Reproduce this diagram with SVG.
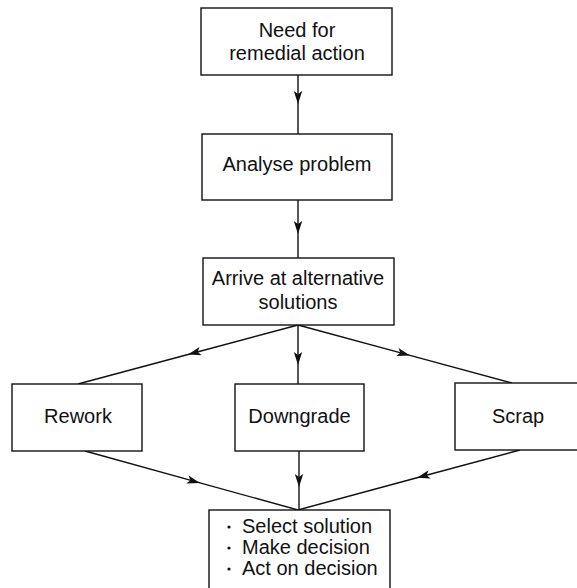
<svg xmlns="http://www.w3.org/2000/svg" width="577" height="588" viewBox="0 0 577 588">
<style>
.box{fill:#fff;stroke:#111;stroke-width:1.4}
.lbl{font-family:"Liberation Sans",Arial,sans-serif;font-size:20px;fill:#111;text-anchor:middle}
.lst{font-family:"Liberation Sans",Arial,sans-serif;font-size:20px;fill:#111}
.conn{fill:none;stroke:#111;stroke-width:1.4;marker-mid:url(#arr)}
</style>
<defs>
<marker id="arr" markerUnits="userSpaceOnUse" markerWidth="14" markerHeight="10" refX="13" refY="5" orient="auto" overflow="visible">
<path d="M0,0.8 L13,5 L0,9.2 L3,5 Z" fill="#111"/>
</marker>
</defs>
<rect width="577" height="588" fill="#fff"/>
<g id="connectors">
<polyline class="conn" points="298,75 298,104 298,134"/>
<polyline class="conn" points="298,200 298,234 298,258"/>
<polyline class="conn" points="298,325 188,354.5 78,384"/>
<polyline class="conn" points="298,325 298,365 298,384"/>
<polyline class="conn" points="298,325 410,355.4 512,383"/>
<polyline class="conn" points="85,451 200,482.9 298,510"/>
<polyline class="conn" points="299,451 299,487 299,510"/>
<polyline class="conn" points="520,450 417,477.8 298,510"/>
</g>
<g id="need">
<rect class="box" x="201" y="8" width="191" height="67"/>
<text class="lbl" x="297" y="37">Need for</text>
<text class="lbl" x="297" y="60">remedial action</text>
</g>
<g id="analyse">
<rect class="box" x="202" y="134" width="190" height="66"/>
<text class="lbl" x="297" y="171">Analyse problem</text>
</g>
<g id="arrive">
<rect class="box" x="203" y="258" width="191" height="67"/>
<text class="lbl" x="298" y="285">Arrive at alternative</text>
<text class="lbl" x="298" y="309">solutions</text>
</g>
<g id="rework">
<rect class="box" x="12" y="384" width="130" height="67"/>
<text class="lbl" x="78" y="423">Rework</text>
</g>
<g id="downgrade">
<rect class="box" x="235" y="384" width="129" height="67"/>
<text class="lbl" x="299.5" y="423">Downgrade</text>
</g>
<g id="scrap">
<rect class="box" x="455" y="383" width="126" height="67"/>
<text class="lbl" x="518" y="423">Scrap</text>
</g>
<g id="decision">
<rect class="box" x="209" y="510" width="181" height="90"/>
<circle cx="229" cy="527" r="1.6" fill="#111"/>
<circle cx="229" cy="548" r="1.6" fill="#111"/>
<circle cx="229" cy="569" r="1.6" fill="#111"/>
<text class="lst" x="242" y="533">Select solution</text>
<text class="lst" x="242" y="554">Make decision</text>
<text class="lst" x="242" y="575">Act on decision</text>
</g>
</svg>
